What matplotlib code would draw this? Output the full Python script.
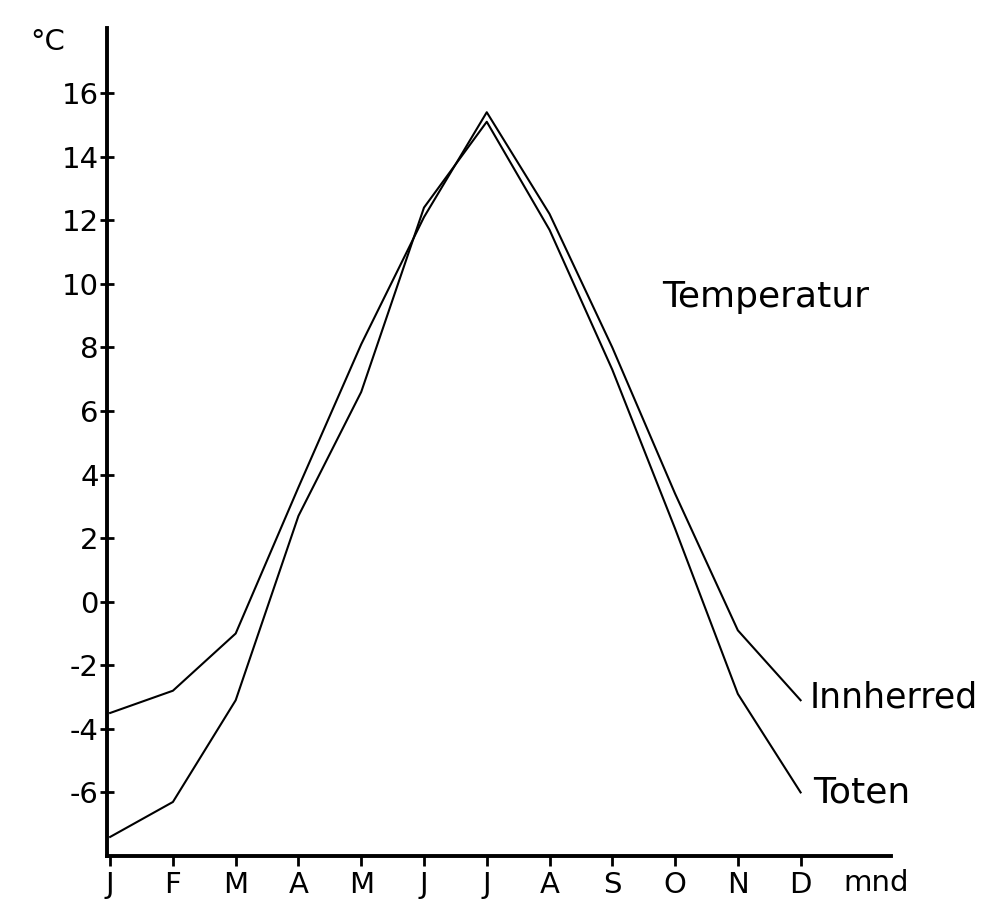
import matplotlib
matplotlib.use("Agg")
import matplotlib.pyplot as plt

# Månedlige middeltemperaturer (°C)
maaneder = ["J", "F", "M", "A", "M", "J", "J", "A", "S", "O", "N", "D"]
innherred = [-3.5, -2.8, -1.0, 3.6, 8.1, 12.1, 15.4, 12.2, 8.0, 3.4, -0.9, -3.1]
toten = [-7.4, -6.3, -3.1, 2.7, 6.6, 12.4, 15.1, 11.7, 7.3, 2.3, -2.9, -6.0]
y_ticks = [-6, -4, -2, 0, 2, 4, 6, 8, 10, 12, 14, 16]

plt.rcParams['font.family'] = ['DejaVu Sans']

W, H = 1005, 914
fig = plt.figure(figsize=(W / 100, H / 100), dpi=100)
ax = fig.add_axes([107 / W, (H - 856) / H, (891 - 107) / W, (856 - 28) / H])

x = list(range(len(maaneder)))
ax.plot(x, innherred, color='black', lw=1.5, solid_joinstyle='round')
ax.plot(x, toten, color='black', lw=1.5, solid_joinstyle='round')

ax.set_xlim(-0.05, 12.44)
ax.set_ylim(-8.0, 18.05)

for side in ['top', 'right']:
    ax.spines[side].set_visible(False)
for side in ['left', 'bottom']:
    ax.spines[side].set_linewidth(2.8)

ax.set_yticks(y_ticks)
ax.set_yticklabels([str(v) for v in y_ticks])
ax.tick_params(axis='y', direction='inout', length=10, width=2, pad=1, labelsize=21)
ax.set_xticks(x)
ax.set_xticklabels(maaneder)
ax.tick_params(axis='x', direction='out', length=7, width=2, pad=4, labelsize=21)

# tekster
ax.text(-1.0, 17.6, "°C", fontsize=21, ha='center', va='center')
ax.text(12.2, -8.85, "mnd", fontsize=21, ha='center', va='center', clip_on=False)
ax.text(10.45, 9.6, "Temperatur", fontsize=26, ha='center', va='center')
ax.text(11.15, -3.0, "Innherred", fontsize=25, ha='left', va='center', clip_on=False)
ax.text(11.2, -6.0, "Toten", fontsize=26, ha='left', va='center', clip_on=False)

fig.savefig("out.png", dpi=100)
